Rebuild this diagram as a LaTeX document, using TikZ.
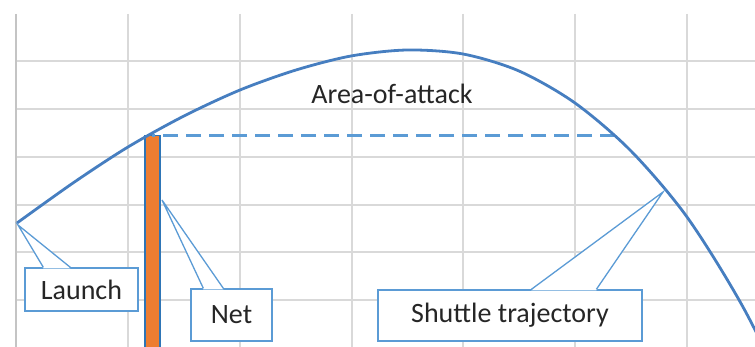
\documentclass[tikz,border=0pt]{standalone}
\usepackage{fontspec}
\setmainfont{Carlito}
\usetikzlibrary{calc}
\definecolor{gridgray}{RGB}{217,217,217}
\definecolor{axisgray}{RGB}{196,196,196}
\definecolor{trajblue}{RGB}{70,126,192}
\definecolor{lightblue}{RGB}{91,155,213}
\definecolor{netorange}{RGB}{237,125,49}
\definecolor{netedge}{RGB}{46,117,182}
\tikzset{
  gridline/.style    = {draw=gridgray, line width=2pt},
  axisline/.style    = {draw=axisgray, line width=2pt},
  trajectory/.style  = {draw=trajblue, line width=2.8pt},
  attackline/.style  = {draw=lightblue, line width=3pt, dash pattern=on 15pt off 8pt},
  netbar/.style      = {fill=netorange, draw=netedge, line width=1.2pt},
  boxtext/.style     = {font=\fontsize{28}{32}\selectfont, text=black!85, inner sep=0pt},
  calloutbox/.style  = {boxtext, draw=lightblue, fill=white, line width=1.3pt},
  pointerline/.style = {draw=lightblue, line width=1.3pt, line join=miter}
}

\begin{document}
\begin{tikzpicture}[x=1pt, y=-1pt]
\useasboundingbox (0,0) rectangle (755,347);
\clip (0,0) rectangle (755,347);

% grid
\foreach \gy in {61.2,109,156.8,204.6,252.4,300.2}
  \draw[gridline] (16,\gy) -- (755,\gy);
\foreach \gx in {128,239.8,351.6,463.4,575.2,687}
  \draw[gridline] (\gx,14) -- (\gx,350);
\draw[axisline] (16,14) -- (16,350);

% net and attack height
\coordinate (nettop) at (145,135.5);
\coordinate (attackend) at (615,135.5);
\draw[netbar] (nettop) rectangle (160,352);
\draw[attackline] (attackend) -- (152,135.5);

% trajectory
\draw[trajectory] plot[smooth] coordinates {
  (17,223) (73,183) (128,147) (184,116) (240,90) (296,70) (351,56)
  (407,50) (463,54) (519,71) (575,103) (631,151) (687,217) (743,307) (799,419)};

\node[boxtext] (area) at (392,93.5) {Area-of-attack};

% callouts
\coordinate (launchtip) at (18,225);
\coordinate (nettip) at (162,200);
\coordinate (shuttletip) at (663,192);

\node[calloutbox, minimum width=113pt, minimum height=43pt] (launch) at (81.5,289.5) {Launch};
\node[calloutbox, minimum width=81pt, minimum height=52pt] (net) at (231.5,315) {Net};
\node[calloutbox, minimum width=264pt, minimum height=51pt] (shuttle) at (510,315.5) {Shuttle trajectory};

\fill[white] ($(launch.north west)+(19,1)$) -- (launchtip) -- ($(launch.north west)+(46,1)$) -- cycle;
\draw[pointerline] ($(launch.north west)+(19,0)$) -- (launchtip) -- ($(launch.north west)+(46,0)$);

\fill[white] ($(net.north west)+(13,1)$) -- (nettip) -- ($(net.north west)+(33,1)$) -- cycle;
\draw[pointerline] ($(net.north west)+(13,0)$) -- (nettip) -- ($(net.north west)+(33,0)$);

\fill[white] ($(shuttle.north west)+(154,1)$) -- (shuttletip) -- ($(shuttle.north west)+(219,1)$) -- cycle;
\draw[pointerline] ($(shuttle.north west)+(154,0)$) -- (shuttletip) -- ($(shuttle.north west)+(219,0)$);
\end{tikzpicture}
\end{document}
